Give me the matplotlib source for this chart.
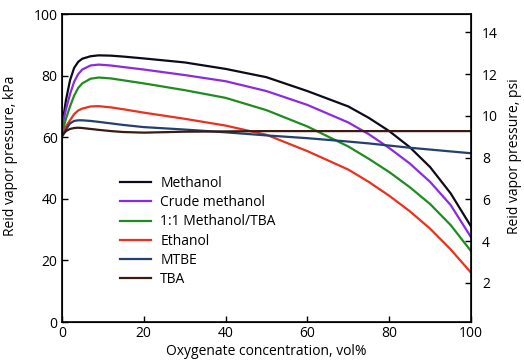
import matplotlib
matplotlib.use('Agg')
import matplotlib.pyplot as plt

plt.rcParams['font.family'] = ['Open Sans', 'DejaVu Sans']

# oxygenate concentration, vol%
x = [0, 1, 2, 3, 4, 5, 7, 9, 12, 15, 20, 30, 40, 50, 60, 70, 75, 80, 85, 90, 95, 100]

# Reid vapor pressure, kPa
methanol = [63, 72, 78.5, 82.5, 84.5, 85.5, 86.3, 86.6, 86.5, 86.2, 85.6, 84.3, 82.2, 79.5, 75, 70, 66.3, 62, 56.8, 50.3, 41.8, 31]
crude    = [63, 69, 74, 78, 80.5, 82, 83.3, 83.6, 83.3, 82.8, 82, 80.2, 78.2, 75, 70.5, 64.8, 61, 56.5, 51.5, 45.5, 38, 27.5]
mix      = [61, 66, 70, 73.5, 76, 77.5, 79, 79.4, 79.1, 78.5, 77.5, 75.3, 72.8, 68.8, 63.5, 57, 53, 48.7, 43.8, 38.3, 31.5, 23]
ethanol  = [61.5, 63.5, 65.5, 67.5, 68.7, 69.3, 70, 70.1, 69.7, 69.1, 68, 66, 63.8, 60.8, 55.5, 49.5, 45.5, 41, 36, 30.3, 23.6, 16]
mtbe     = [60, 62.5, 64.5, 65.3, 65.5, 65.5, 65.3, 65, 64.5, 64, 63.3, 62.5, 61.6, 60.6, 59.7, 58.6, 58, 57.3, 56.6, 56, 55.4, 54.8]
tba      = [60.5, 62, 62.7, 63, 63.1, 63, 62.7, 62.4, 62, 61.7, 61.5, 61.8, 61.9, 62, 62, 62, 62, 62, 62, 62, 62, 62]

names = ['Methanol', 'Crude methanol', '1:1 Methanol/TBA', 'Ethanol', 'MTBE', 'TBA']
series = [methanol, crude, mix, ethanol, mtbe, tba]
colors = ['#0b0b1c', '#8a2be2', '#1e8c1e', '#e8321e', '#24406e', '#3b1a12']

fig = plt.figure(figsize=(5.24, 3.61), dpi=100)
ax = fig.add_axes([0.118, 0.108, 0.781, 0.853])

for s, n, c in zip(series, names, colors):
    ax.plot(x, s, color=c, lw=1.6, label=n)

ax.set_xlim(0, 100)
ax.set_ylim(0, 100)
ax.set_xticks([0, 20, 40, 60, 80, 100])
ax.set_yticks([0, 20, 40, 60, 80, 100])
ax.tick_params(direction='in', length=4, width=1, labelsize=10, pad=3)
for sp in ax.spines.values():
    sp.set_linewidth(1.2)

ax.set_xlabel('Oxygenate concentration, vol%', fontsize=10, labelpad=2)
ax.set_ylabel('Reid vapor pressure, kPa', fontsize=10)
ax.yaxis.set_label_coords(-0.108, 0.54)

# psi axis on the right
ax2 = ax.twinx()
ax2.set_ylim(0.13, 14.87)
ax2.set_yticks([2, 4, 6, 8, 10, 12, 14])
ax2.tick_params(direction='in', length=4, width=1, labelsize=10, pad=8)
ax2.set_ylabel('Reid vapor pressure, psi', fontsize=10)
ax2.yaxis.set_label_coords(1.088, 0.54)

ax.legend(loc='upper left', bbox_to_anchor=(0.142, 0.474), frameon=False,
          fontsize=10, handlelength=2.2, handletextpad=0.7,
          labelspacing=0.3, borderpad=0, borderaxespad=0)

fig.savefig('out.png', dpi=100)
